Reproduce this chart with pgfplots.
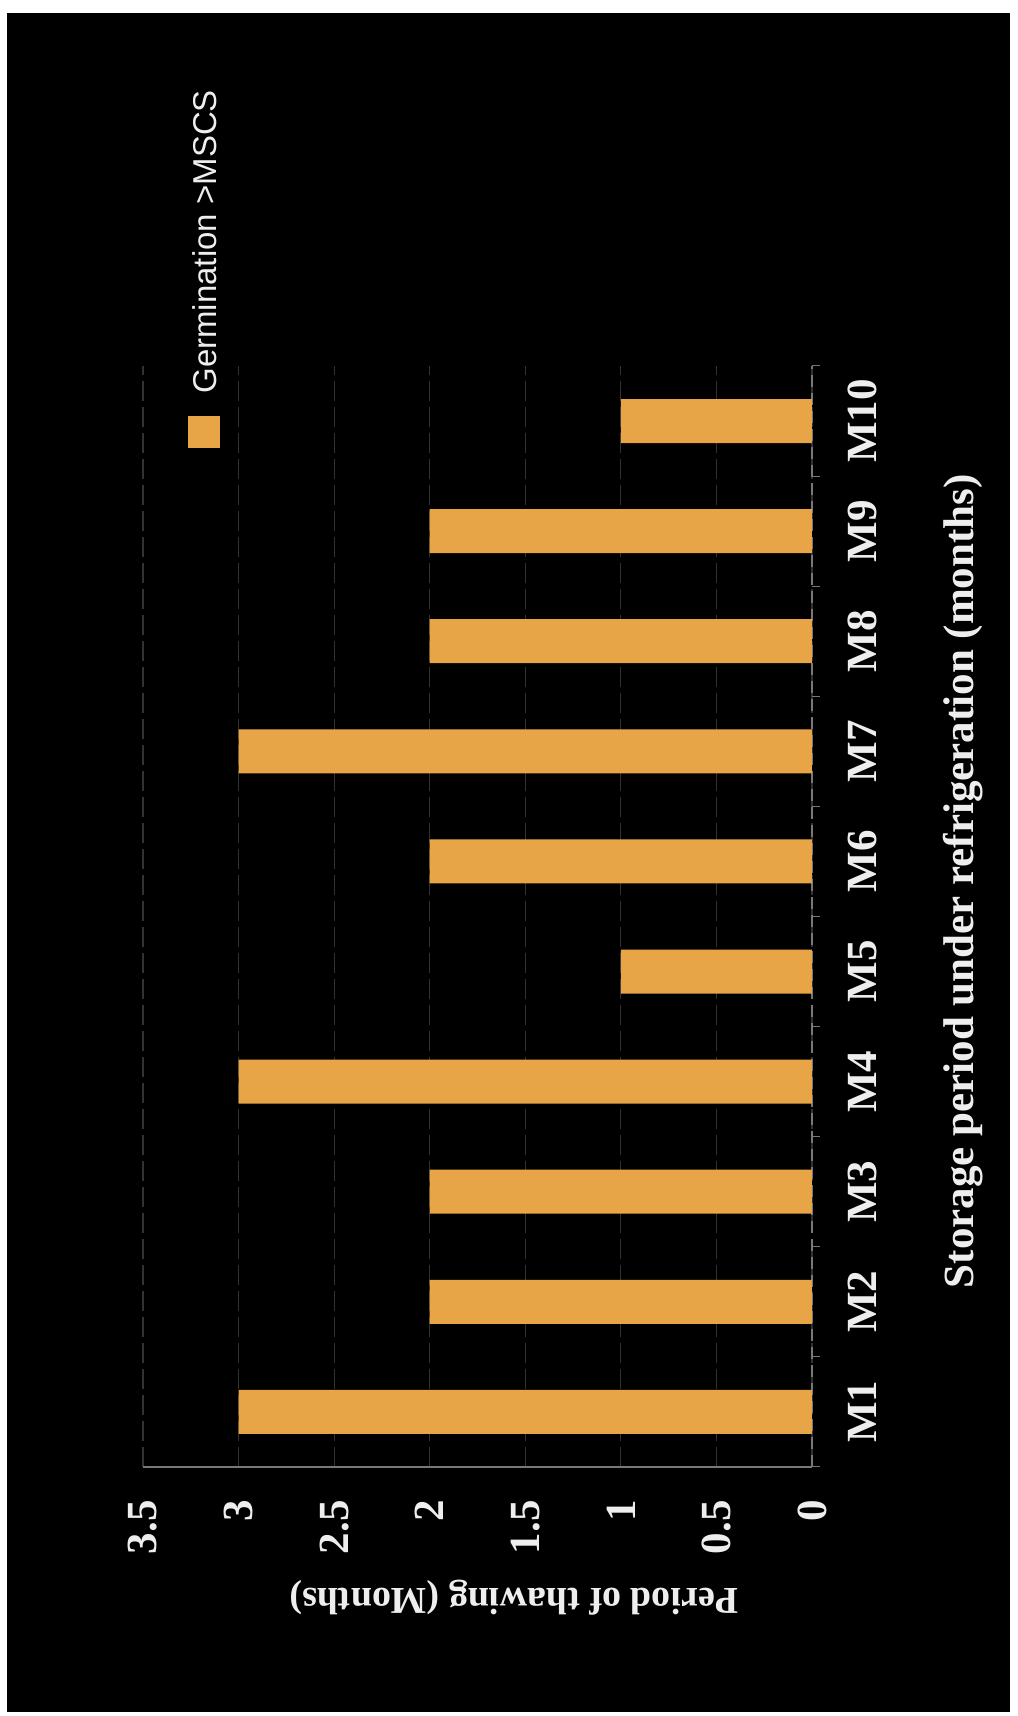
\documentclass[border=0pt]{standalone}
\usepackage{pgfplots}
\pgfplotsset{compat=1.18}
\usepackage{fontspec}
\setmainfont{Liberation Serif}
\newfontfamily\legendfont{Liberation Sans}
\definecolor{barfill}{RGB}{232,165,72}
\definecolor{gridc}{RGB}{50,50,50}
\definecolor{axisc}{RGB}{120,120,120}
\definecolor{txt}{RGB}{238,238,238}
\newcommand{\lblfont}{\bfseries\fontsize{21.5}{24}\selectfont}
\newcommand{\xlblfont}{\bfseries\fontsize{19}{22}\selectfont}

\begin{document}
\begin{tikzpicture}
% page with a thin white margin around the black panel
\fill[white] (0pt,0pt) rectangle (508.5pt,858pt);
\fill[black] (3.5pt,2pt) rectangle (505pt,851.5pt);
\useasboundingbox (0pt,0pt) rectangle (508.5pt,858pt);
\begin{axis}[
  at={(71.5pt,124.5pt)}, anchor=south west,
  scale only axis, width=334.5pt, height=550.5pt,
  clip=false,
  xbar, bar width=22pt,
  x dir=reverse,
  xmin=0, xmax=3.5, ymin=0.5, ymax=10.5,
  axis x line*=bottom, axis y line*=right,
  x axis line style={axisc, line width=0.8pt},
  y axis line style={axisc, line width=0.6pt, dash pattern=on 6pt off 3pt},
  xtick={0,0.5,1,1.5,2,2.5,3,3.5},
  xticklabels={0,0.5,1,1.5,2,2.5,3,3.5},
  ytick={1,2,3,4,5,6,7,8,9,10},
  yticklabels={M1,M2,M3,M4,M5,M6,M7,M8,M9,M10},
  minor ytick={0.5,1.5,2.5,3.5,4.5,5.5,6.5,7.5,8.5,9.5,10.5},
  tick align=outside,
  major tick length=0pt, minor tick length=4pt,
  minor tick style={axisc, line width=0.5pt},
  xmajorgrids,
  major grid style={gridc, line width=0.6pt, dash pattern=on 10pt off 3pt},
  xticklabel style={rotate=90, anchor=east, inner sep=0pt, font=\lblfont, text=txt},
  xticklabel shift=16.5pt,
  yticklabel style={rotate=90, anchor=north, inner sep=0pt, font=\lblfont, text=txt},
  yticklabel shift=18pt,
  xlabel={Period of thawing (Months)},
  ylabel={Storage period under refrigeration (months)},
  every axis x label/.style={at={(axis description cs:0.5546,-0.119)}, rotate=180, anchor=center, font=\xlblfont, text=txt},
  every axis y label/.style={at={(axis description cs:1.2257,0.532)}, rotate=90, anchor=center, font=\lblfont, text=txt},
]
\addplot[fill=barfill, draw=none]
  coordinates {(3,1) (2,2) (2,3) (3,4) (1,5) (2,6) (3,7) (2,8) (2,9) (1,10)};
% legend key, turned with the rest of the chart
\node[rotate=90, anchor=west, inner sep=0pt, text=txt,
      font=\legendfont\fontsize{16.5}{18}\selectfont]
  at (axis description cs:0.0912,0.9255)
  {\textcolor{barfill}{\rule[-2pt]{16pt}{16pt}}\hspace{11pt}Germination >MSCS};
\end{axis}
\end{tikzpicture}
\end{document}
